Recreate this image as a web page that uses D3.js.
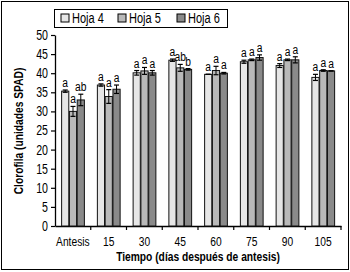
<!DOCTYPE html>
<html>
<head>
<meta charset="utf-8">
<script src="https://cdn.jsdelivr.net/npm/d3@7"></script>
<style>
  body { margin: 0; background: #fff; }
  svg text { font-family: "Liberation Sans", Arial, sans-serif; }
</style>
</head>
<body>
<div id="chart"></div>
<script>
// Chlorophyll (SPAD) per leaf over time after anthesis
const categories = ["Antesis", "15", "30", "45", "60", "75", "90", "105"];
const seriesNames = ["Hoja 4", "Hoja 5", "Hoja 6"];
const seriesColors = ["#e6e6e6", "#b9b9b9", "#8a8a8a"];

const hoja4 = [35.3, 36.9, 40.1, 43.4, 39.7, 43.0, 42.0, 38.9];
const hoja5 = [30.0, 33.9, 40.6, 41.4, 40.7, 43.5, 43.5, 40.7];
const hoja6 = [33.0, 35.8, 40.1, 41.0, 40.0, 44.1, 43.5, 40.6];

const err4 = [0.3, 0.3, 0.6, 0.3, 0.0, 0.4, 0.5, 0.8];
const err5 = [1.3, 1.8, 0.9, 0.9, 1.1, 0.2, 0.2, 0.2];
const err6 = [1.5, 1.1, 0.6, 0.2, 0.2, 0.7, 0.8, 0.0];

const letters4 = ["a", "a", "a", "a", "a", "a", "a", "a"];
const letters5 = ["a", "a", "a", "ab", "a", "a", "a", "a"];
const letters6 = ["ab", "a", "a", "b", "a", "a", "a", "a"];

const yTicks = [0, 5, 10, 15, 20, 25, 30, 35, 40, 45, 50];

const width = 350, height = 272;
const narrow = 0.76; // horizontal squeeze to mimic a narrow typeface

// Build rows from the arrays above.
const values = [hoja4, hoja5, hoja6];
const errors = [err4, err5, err6];
const letters = [letters4, letters5, letters6];
const rows = categories.map((cat, i) => ({
    cat: cat,
    bars: seriesNames.map((s, j) => ({
        series: s, value: values[j][i], err: errors[j][i], letter: letters[j][i]
    }))
}));

const svg = d3.select("#chart").append("svg")
    .attr("width", width)
    .attr("height", height)
    .attr("viewBox", [0, 0, width, height]);

// Outer frame
svg.append("rect")
    .attr("x", 1.5).attr("y", 1.5)
    .attr("width", width - 3).attr("height", height - 4)
    .attr("fill", "none").attr("stroke", "#000").attr("stroke-width", 1);

const x = d3.scaleBand().domain(categories).range([55, 341]).padding(0);
const xInner = d3.scaleBand().domain(seriesNames).range([6, 30]).padding(0.08);
const y = d3.scaleLinear().domain([0, 50]).range([226, 35]);

// Y axis
const yAxis = svg.append("g")
    .attr("transform", "translate(55,0)")
    .call(d3.axisLeft(y).tickValues(yTicks).tickSize(4).tickPadding(3).tickSizeOuter(0));
yAxis.select(".domain").attr("stroke", "#000").attr("stroke-width", 1.3);
yAxis.selectAll(".tick line").attr("stroke", "#000").attr("stroke-width", 1.2);
yAxis.selectAll(".tick text")
    .attr("font-size", 14).attr("fill", "#000")
    .attr("x", -7 / narrow)
    .attr("transform", `scale(${narrow},1)`);

// X axis: ticks between the groups
const xAxis = svg.append("g")
    .attr("transform", "translate(0,226)")
    .call(d3.axisBottom(x).tickSize(0).tickPadding(10));
xAxis.select(".domain").attr("stroke", "#000").attr("stroke-width", 1.3);
xAxis.selectAll(".tick text")
    .attr("font-size", 13.5).attr("fill", "#000")
    .attr("transform", `scale(${narrow},1)`);
xAxis.selectAll(".sep")
    .data(categories.slice(1).concat(["end"]))
    .join("line")
    .attr("class", "sep")
    .attr("x1", (d, i) => x.range()[0] + (i + 1) * x.bandwidth())
    .attr("x2", (d, i) => x.range()[0] + (i + 1) * x.bandwidth())
    .attr("y1", 0).attr("y2", 4)
    .attr("stroke", "#000").attr("stroke-width", 1.2);

// Bars
const groups = svg.selectAll(".grp")
    .data(rows)
    .join("g")
    .attr("class", "grp")
    .attr("transform", d => `translate(${x(d.cat)},0)`);

groups.selectAll("rect")
    .data(d => d.bars)
    .join("rect")
    .attr("x", d => xInner(d.series))
    .attr("y", d => y(d.value))
    .attr("width", xInner.bandwidth())
    .attr("height", d => y(0) - y(d.value))
    .attr("fill", (d, j) => seriesColors[j])
    .attr("stroke", "#111")
    .attr("stroke-width", 1);

// Error bars
const eb = groups.selectAll(".eb")
    .data(d => d.bars)
    .join("g")
    .attr("class", "eb")
    .attr("transform", d => `translate(${xInner(d.series) + xInner.bandwidth() / 2},0)`);
eb.append("line")
    .attr("y1", d => y(d.value - d.err)).attr("y2", d => y(d.value + d.err))
    .attr("stroke", "#000").attr("stroke-width", 1);
eb.selectAll(".cap")
    .data(d => [d.value - d.err, d.value + d.err])
    .join("line")
    .attr("class", "cap")
    .attr("x1", -2.5).attr("x2", 2.5)
    .attr("y1", v => y(v)).attr("y2", v => y(v))
    .attr("stroke", "#000").attr("stroke-width", 1.2);

// Significance letters
eb.append("text")
    .attr("transform", d => `translate(0,${y(d.value + d.err) - 3}) scale(${narrow},1)`)
    .attr("text-anchor", "middle")
    .attr("font-size", 13.5)
    .text(d => d.letter);

// Axis titles
svg.append("text")
    .attr("transform", `translate(198,261) scale(${narrow},1)`)
    .attr("text-anchor", "middle")
    .attr("font-size", 13.5).attr("font-weight", "bold")
    .text("Tiempo (días después de antesis)");

svg.append("text")
    .attr("transform", `translate(23,131) rotate(-90) scale(${narrow},1)`)
    .attr("text-anchor", "middle")
    .attr("font-size", 13.5).attr("font-weight", "bold")
    .text("Clorofila (unidades SPAD)");

// Legend
const legend = svg.append("g");
legend.append("rect")
    .attr("x", 54.5).attr("y", 9.5).attr("width", 173).attr("height", 18)
    .attr("fill", "#fff").attr("stroke", "#000");
const legendX = [61, 118, 177];
const li = legend.selectAll(".li")
    .data(seriesNames)
    .join("g")
    .attr("class", "li")
    .attr("transform", (d, i) => `translate(${legendX[i]},14)`);
li.append("rect")
    .attr("width", 8).attr("height", 8)
    .attr("fill", (d, i) => seriesColors[i])
    .attr("stroke", "#000");
li.append("text")
    .attr("transform", `translate(11,9) scale(${narrow},1)`)
    .attr("font-size", 14.5)
    .text(d => d);
</script>
</body>
</html>
